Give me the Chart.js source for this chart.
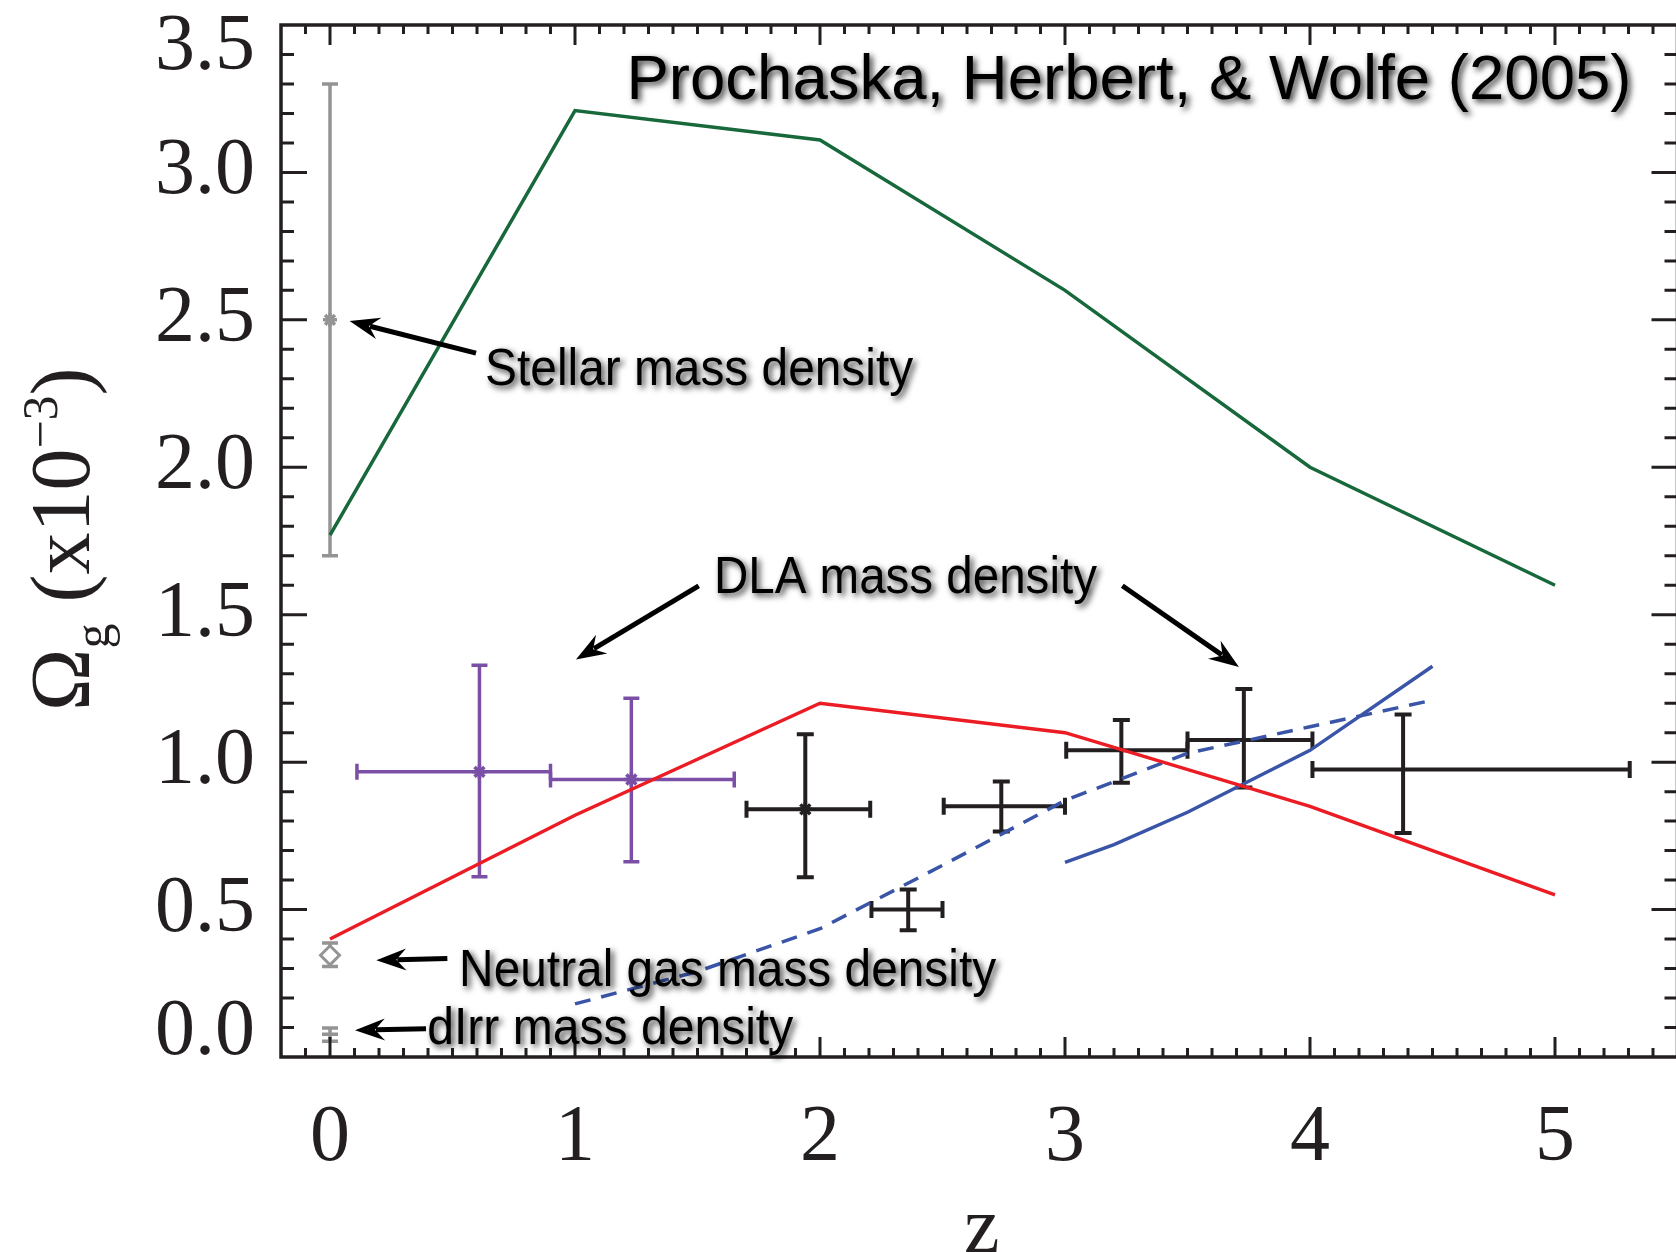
<!DOCTYPE html>
<html>
<head>
<meta charset="utf-8">
<title>Omega_g vs z</title>
<script src="https://cdn.jsdelivr.net/npm/chart.js@4.4.1/dist/chart.umd.min.js"></script>
<style>
    html, body { margin: 0; padding: 0; overflow: hidden; background: #fff; }
    #wrap { width: 1690px; height: 1252px; }
</style>
</head>
<body>
<div id="wrap"><canvas id="chart" width="1690" height="1252"></canvas></div>
<script>
// ---- model curves ----
const stellarModelZ = [0, 1, 2, 3, 4, 5];
const stellarModelOmega = [1.77, 3.21, 3.11, 2.60, 2.00, 1.60];

const dlaModelZ = [0, 1, 2, 3, 4, 5];
const dlaModelOmega = [0.40, 0.82, 1.20, 1.10, 0.85, 0.55];

const blueSolidZ = [3.0, 3.2, 3.5, 4.0, 4.5];
const blueSolidOmega = [0.66, 0.72, 0.83, 1.04, 1.325];

const blueDashZ = [1.0, 1.5, 2.0, 2.5, 3.0, 3.5, 4.0, 4.5];
const blueDashOmega = [0.18, 0.29, 0.435, 0.65, 0.87, 1.03, 1.12, 1.21];

// ---- z = 0 measurements ----
const stellarObsZ = [0];
const stellarObsOmega = [2.50];
const stellarObsLo = [1.70];
const stellarObsHi = [3.30];

const neutralZ = [0];
const neutralOmega = [0.345];
const neutralLo = [0.307];
const neutralHi = [0.387];

const dirrZ = [0];
const dirrOmega = [0.077];
const dirrLo = [0.053];
const dirrHi = [0.098];

// ---- low-z DLA (purple) ----
const lowzZ = [0.61, 1.23];
const lowzZLo = [0.11, 0.90];
const lowzZHi = [0.90, 1.65];
const lowzOmega = [0.967, 0.941];
const lowzOmegaLo = [0.611, 0.662];
const lowzOmegaHi = [1.329, 1.217];

// ---- SDSS DLA (black) ----
const sdssZ = [1.94, 2.36, 2.74, 3.23, 3.73, 4.38];
const sdssZLo = [1.70, 2.21, 2.505, 3.005, 3.50, 4.01];
const sdssZHi = [2.205, 2.50, 3.0, 3.50, 4.01, 5.305];
const sdssOmega = [0.84, 0.50, 0.85, 1.04, 1.075, 0.975];
const sdssOmegaLo = [0.61, 0.43, 0.765, 0.93, 0.914, 0.76];
const sdssOmegaHi = [1.095, 0.568, 0.934, 1.143, 1.248, 1.162];

// ---- axis labels ----
const xTickValues = [0, 1, 2, 3, 4, 5];
const xTickLabels = ['0', '1', '2', '3', '4', '5'];
const yTickValues = [0, 0.5, 1.0, 1.5, 2.0, 2.5, 3.0, 3.5];
const yTickLabels = ['0.0', '0.5', '1.0', '1.5', '2.0', '2.5', '3.0', '3.5'];

const INK = '#231f20';
const GRAY = '#949494';
const PURPLE = '#7b4fa6';
const SERIF = '"Liberation Serif", "Times New Roman", serif';
const SANS = '"Liberation Sans", Arial, Helvetica, sans-serif';

const pts = (xs, ys) => xs.map((x, i) => ({ x: x, y: ys[i] }));

// text annotations: left edge / baseline in data units, target width in px
const notes = [
    { text: 'Prochaska, Herbert, & Wolfe (2005)', z: 1.21, omega: 3.25, size: 63, width: 1005 },
    { text: 'Stellar mass density', z: 0.633, omega: 2.279, size: 52, width: 428 },
    { text: 'DLA mass density', z: 1.567, omega: 1.573, size: 52, width: 383 },
    { text: 'Neutral gas mass density', z: 0.527, omega: 0.240, size: 52, width: 537 },
    { text: 'dIrr mass density', z: 0.397, omega: 0.043, size: 52, width: 366 }
];

// arrows: [fromZ, fromOmega, toZ, toOmega]
const arrows = [
    [0.596, 2.387, 0.080, 2.496],
    [1.505, 1.598, 1.004, 1.348],
    [3.234, 1.598, 3.710, 1.323],
    [0.479, 0.334, 0.189, 0.328],
    [0.392, 0.096, 0.102, 0.091]
];

const errorBarSets = [
    { z: stellarObsZ, omega: stellarObsOmega, lo: stellarObsLo, hi: stellarObsHi, color: GRAY, width: 3.5, cap: 8 },
    { z: neutralZ, omega: neutralOmega, lo: neutralLo, hi: neutralHi, color: GRAY, width: 3.5, cap: 8 },
    { z: dirrZ, omega: dirrOmega, lo: dirrLo, hi: dirrHi, color: GRAY, width: 3.5, cap: 8 },
    { z: lowzZ, omega: lowzOmega, lo: lowzOmegaLo, hi: lowzOmegaHi, zLo: lowzZLo, zHi: lowzZHi, color: PURPLE, width: 3.5, cap: 8 },
    { z: sdssZ, omega: sdssOmega, lo: sdssOmegaLo, hi: sdssOmegaHi, zLo: sdssZLo, zHi: sdssZHi, color: INK, width: 4, cap: 8.5 }
];

const errorBars = {
    id: 'errorBars',
    beforeDatasetsDraw(chart) {
        const { ctx, scales: { x, y } } = chart;
        ctx.save();
        errorBarSets.forEach(set => {
            ctx.strokeStyle = set.color;
            ctx.lineWidth = set.width;
            set.z.forEach((z, i) => {
                const px = x.getPixelForValue(z);
                const py = y.getPixelForValue(set.omega[i]);
                const top = y.getPixelForValue(set.hi[i]);
                const bot = y.getPixelForValue(set.lo[i]);
                ctx.beginPath();
                ctx.moveTo(px, top); ctx.lineTo(px, bot);
                ctx.moveTo(px - set.cap, top); ctx.lineTo(px + set.cap, top);
                ctx.moveTo(px - set.cap, bot); ctx.lineTo(px + set.cap, bot);
                if (set.zLo) {
                    const l = x.getPixelForValue(set.zLo[i]);
                    const r = x.getPixelForValue(set.zHi[i]);
                    ctx.moveTo(l, py); ctx.lineTo(r, py);
                    ctx.moveTo(l, py - set.cap); ctx.lineTo(l, py + set.cap);
                    ctx.moveTo(r, py - set.cap); ctx.lineTo(r, py + set.cap);
                }
                ctx.stroke();
            });
        });
        ctx.restore();
    }
};

function drawArrow(ctx, x0, y0, x1, y1) {
    const a = Math.atan2(y1 - y0, x1 - x0);
    const c = Math.cos(a), s = Math.sin(a);
    const head = 27, half = 11;
    const bx = x1 - head * c, by = y1 - head * s;
    ctx.beginPath();
    ctx.moveTo(x0, y0);
    ctx.lineTo(bx + 6 * c, by + 6 * s);
    ctx.stroke();
    ctx.beginPath();
    ctx.moveTo(x1, y1);
    ctx.lineTo(bx - 3 * c + half * s, by - 3 * s - half * c);
    ctx.lineTo(bx + 7 * c, by + 7 * s);
    ctx.lineTo(bx - 3 * c - half * s, by - 3 * s + half * c);
    ctx.closePath();
    ctx.fill();
}

const frameAndText = {
    id: 'frameAndText',
    afterDraw(chart) {
        const { ctx, chartArea: area, scales: { x, y } } = chart;
        ctx.save();
        ctx.strokeStyle = INK;
        ctx.fillStyle = INK;

        // ticks on all four sides, pointing inward
        ctx.lineWidth = 3;
        ctx.beginPath();
        for (let i = -1; i < 55; i++) {
            const px = x.getPixelForValue(i / 10);
            const len = i % 10 === 0 ? 20 : 9;
            ctx.moveTo(px, area.bottom); ctx.lineTo(px, area.bottom - len);
            ctx.moveTo(px, area.top); ctx.lineTo(px, area.top + len);
        }
        for (let i = 1; i < 35; i++) {
            const py = y.getPixelForValue(i / 10);
            const len = i % 5 === 0 ? 26 : 13;
            ctx.moveTo(area.left, py); ctx.lineTo(area.left + len, py);
            ctx.moveTo(area.right, py); ctx.lineTo(area.right - len, py);
        }
        ctx.stroke();

        // frame
        ctx.lineWidth = 3.5;
        ctx.strokeRect(area.left, area.top, area.right - area.left, area.bottom - area.top);

        // tick labels
        ctx.font = '80px ' + SERIF;
        ctx.textAlign = 'right';
        ctx.textBaseline = 'middle';
        yTickValues.forEach((v, i) => {
            let py = y.getPixelForValue(v);
            if (i === 0) py -= 24;
            if (i === yTickValues.length - 1) py += 23;
            ctx.fillText(yTickLabels[i], area.left - 26, py);
        });
        ctx.textAlign = 'center';
        ctx.textBaseline = 'alphabetic';
        xTickValues.forEach((v, i) => {
            ctx.fillText(xTickLabels[i], x.getPixelForValue(v), area.bottom + 103);
        });

        // axis titles
        ctx.fillText('z', x.getPixelForValue(2.66), area.bottom + 195);

        ctx.save();
        ctx.translate(89, 711);
        ctx.rotate(-Math.PI / 2);
        ctx.textAlign = 'left';
        let cx = 0;
        const seg = (t, size, dy) => {
            ctx.font = size + 'px ' + SERIF;
            ctx.fillText(t, cx, dy);
            cx += ctx.measureText(t).width;
        };
        seg('\u03A9', 84, 0);
        seg('g', 50, 20);
        seg(' (x10', 84, 0);
        seg('\u2212', 50, -32);
        seg('3', 50, -32);
        seg(')', 84, 0);
        ctx.restore();

        // arrows
        ctx.lineWidth = 5;
        ctx.fillStyle = '#000';
        ctx.strokeStyle = '#000';
        arrows.forEach(a => {
            drawArrow(ctx, x.getPixelForValue(a[0]), y.getPixelForValue(a[1]),
                x.getPixelForValue(a[2]), y.getPixelForValue(a[3]));
        });

        // shadowed annotations
        ctx.textAlign = 'left';
        ctx.shadowColor = 'rgba(0, 0, 0, 0.8)';
        ctx.shadowBlur = 6;
        ctx.shadowOffsetX = 3;
        ctx.shadowOffsetY = 3;
        notes.forEach(n => {
            ctx.font = n.size + 'px ' + SANS;
            const w = ctx.measureText(n.text).width;
            ctx.save();
            ctx.translate(x.getPixelForValue(n.z), y.getPixelForValue(n.omega));
            ctx.scale(n.width / w, 1);
            ctx.fillText(n.text, 0, 0);
            ctx.restore();
        });
        ctx.restore();
    }
};

new Chart(document.getElementById('chart'), {
    type: 'scatter',
    data: {
        datasets: [
            {
                data: pts(sdssZ, sdssOmega),
                pointStyle: 'star', pointRadius: [7, 0, 0, 0, 0, 0],
                borderColor: INK, borderWidth: 3.5
            },
            {
                data: pts(lowzZ, lowzOmega),
                pointStyle: 'star', pointRadius: 7,
                borderColor: PURPLE, borderWidth: 3.5
            },
            {
                data: pts(stellarObsZ, stellarObsOmega),
                pointStyle: 'star', pointRadius: 7,
                borderColor: GRAY, borderWidth: 3.5
            },
            {
                data: pts(neutralZ, neutralOmega),
                pointStyle: 'rectRot', pointRadius: 9.5,
                backgroundColor: '#fff', borderColor: GRAY, borderWidth: 3
            },
            {
                data: pts(dirrZ, dirrOmega),
                pointStyle: 'line', pointRadius: 8,
                borderColor: GRAY, borderWidth: 3.5
            },
            {
                data: pts(dlaModelZ, dlaModelOmega),
                showLine: true, pointRadius: 0,
                borderColor: '#ec1c24', borderWidth: 3.5
            },
            {
                data: pts(stellarModelZ, stellarModelOmega),
                showLine: true, pointRadius: 0,
                borderColor: '#17683a', borderWidth: 3.5
            },
            {
                data: pts(blueSolidZ, blueSolidOmega),
                showLine: true, pointRadius: 0,
                borderColor: '#3a55a7', borderWidth: 3.5
            },
            {
                data: pts(blueDashZ, blueDashOmega),
                showLine: true, pointRadius: 0,
                borderColor: '#3a55a7', borderWidth: 3.5, borderDash: [16, 11]
            }
        ]
    },
    options: {
        responsive: false,
        animation: false,
        devicePixelRatio: 1,
        events: [],
        layout: { padding: { left: 281, right: 2, top: 25, bottom: 195 } },
        plugins: { legend: { display: false }, tooltip: { enabled: false } },
        scales: {
            x: { type: 'linear', min: -0.2, max: 5.5, display: false },
            y: { type: 'linear', min: 0, max: 3.5, display: false }
        }
    },
    plugins: [errorBars, frameAndText]
});
</script>
</body>
</html>
